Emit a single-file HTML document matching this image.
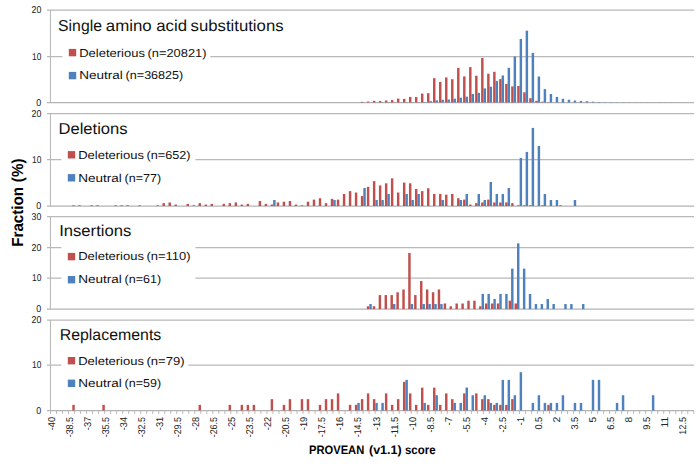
<!DOCTYPE html><html><head><meta charset="utf-8"><style>html,body{margin:0;padding:0;background:#fff;width:700px;height:466px;overflow:hidden}svg{display:block}text{font-family:"Liberation Sans",sans-serif;text-rendering:geometricPrecision}.t{fill:#111}</style></head><body>
<svg width="700" height="466" viewBox="0 0 700 466">
<rect width="700" height="466" fill="#fff"/>
<line x1="47" y1="102.5" x2="694" y2="102.5" stroke="#B3B3B3" stroke-width="1.25"/>
<text x="36.35" y="105.67" font-size="9.9" fill="#222" textLength="5" lengthAdjust="spacingAndGlyphs">0</text>
<line x1="47" y1="56.7" x2="694" y2="56.7" stroke="#B9B9B9" stroke-width="1.25"/>
<text x="31.96" y="59.87" font-size="9.9" fill="#222" textLength="9.37" lengthAdjust="spacingAndGlyphs">10</text>
<line x1="47" y1="10" x2="694" y2="10" stroke="#B9B9B9" stroke-width="1.25"/>
<text x="31.51" y="13.16" font-size="9.9" fill="#222" textLength="9.84" lengthAdjust="spacingAndGlyphs">20</text>
<line x1="50.4" y1="10" x2="50.4" y2="102.5" stroke="#B3B3B3" stroke-width="1"/>
<rect x="360.87" y="101.8" width="2.45" height="0.7" fill="#C0504D"/>
<rect x="366.89" y="101.5" width="2.45" height="1" fill="#C0504D"/>
<rect x="372.9" y="100.8" width="2.45" height="1.7" fill="#C0504D"/>
<rect x="378.91" y="101" width="2.45" height="1.5" fill="#C0504D"/>
<rect x="384.92" y="100.5" width="2.45" height="2" fill="#C0504D"/>
<rect x="390.93" y="100.1" width="2.45" height="2.4" fill="#C0504D"/>
<rect x="396.95" y="98.6" width="2.45" height="3.9" fill="#C0504D"/>
<rect x="402.96" y="98.9" width="2.45" height="3.6" fill="#C0504D"/>
<rect x="408.97" y="96.9" width="2.45" height="5.6" fill="#C0504D"/>
<rect x="414.98" y="97" width="2.45" height="5.5" fill="#C0504D"/>
<rect x="420.99" y="93.6" width="2.45" height="8.9" fill="#C0504D"/>
<rect x="427.01" y="93.2" width="2.45" height="9.3" fill="#C0504D"/>
<rect x="433.02" y="78.2" width="2.45" height="24.3" fill="#C0504D"/>
<rect x="439.03" y="81.9" width="2.45" height="20.6" fill="#C0504D"/>
<rect x="445.04" y="77.4" width="2.45" height="25.1" fill="#C0504D"/>
<rect x="451.05" y="79.2" width="2.45" height="23.3" fill="#C0504D"/>
<rect x="457.07" y="67.9" width="2.45" height="34.6" fill="#C0504D"/>
<rect x="463.08" y="76.4" width="2.45" height="26.1" fill="#C0504D"/>
<rect x="469.09" y="67.1" width="2.45" height="35.4" fill="#C0504D"/>
<rect x="475.1" y="75.7" width="2.45" height="26.8" fill="#C0504D"/>
<rect x="481.11" y="57.9" width="2.45" height="44.6" fill="#C0504D"/>
<rect x="487.13" y="73.7" width="2.45" height="28.8" fill="#C0504D"/>
<rect x="493.14" y="71.8" width="2.45" height="30.7" fill="#C0504D"/>
<rect x="499.15" y="79.1" width="2.45" height="23.4" fill="#C0504D"/>
<rect x="505.16" y="84" width="2.45" height="18.5" fill="#C0504D"/>
<rect x="511.17" y="86.4" width="2.45" height="16.1" fill="#C0504D"/>
<rect x="517.19" y="86" width="2.45" height="16.5" fill="#C0504D"/>
<rect x="523.2" y="92.3" width="2.45" height="10.2" fill="#C0504D"/>
<rect x="529.21" y="98.2" width="2.45" height="4.3" fill="#C0504D"/>
<rect x="535.22" y="100.8" width="2.45" height="1.7" fill="#C0504D"/>
<rect x="541.23" y="101.7" width="2.45" height="0.8" fill="#C0504D"/>
<rect x="547.25" y="102.1" width="2.45" height="0.4" fill="#C0504D"/>
<rect x="381.36" y="102.3" width="2.45" height="0.2" fill="#4F81BD"/>
<rect x="387.37" y="102.3" width="2.45" height="0.2" fill="#4F81BD"/>
<rect x="393.38" y="102.3" width="2.45" height="0.2" fill="#4F81BD"/>
<rect x="399.4" y="102.3" width="2.45" height="0.2" fill="#4F81BD"/>
<rect x="405.41" y="102.2" width="2.45" height="0.3" fill="#4F81BD"/>
<rect x="411.42" y="102.2" width="2.45" height="0.3" fill="#4F81BD"/>
<rect x="417.43" y="102.2" width="2.45" height="0.3" fill="#4F81BD"/>
<rect x="423.44" y="102" width="2.45" height="0.5" fill="#4F81BD"/>
<rect x="429.46" y="101.1" width="2.45" height="1.4" fill="#4F81BD"/>
<rect x="435.47" y="100.4" width="2.45" height="2.1" fill="#4F81BD"/>
<rect x="441.48" y="99.8" width="2.45" height="2.7" fill="#4F81BD"/>
<rect x="447.49" y="99.5" width="2.45" height="3" fill="#4F81BD"/>
<rect x="453.5" y="98.7" width="2.45" height="3.8" fill="#4F81BD"/>
<rect x="459.52" y="97.7" width="2.45" height="4.8" fill="#4F81BD"/>
<rect x="465.53" y="96.7" width="2.45" height="5.8" fill="#4F81BD"/>
<rect x="471.54" y="94" width="2.45" height="8.5" fill="#4F81BD"/>
<rect x="477.55" y="92.9" width="2.45" height="9.6" fill="#4F81BD"/>
<rect x="483.56" y="88.4" width="2.45" height="14.1" fill="#4F81BD"/>
<rect x="489.58" y="86.7" width="2.45" height="15.8" fill="#4F81BD"/>
<rect x="495.59" y="80.9" width="2.45" height="21.6" fill="#4F81BD"/>
<rect x="501.6" y="75.5" width="2.45" height="27" fill="#4F81BD"/>
<rect x="507.61" y="67.8" width="2.45" height="34.7" fill="#4F81BD"/>
<rect x="513.62" y="56.5" width="2.45" height="46" fill="#4F81BD"/>
<rect x="519.64" y="39" width="2.45" height="63.5" fill="#4F81BD"/>
<rect x="525.65" y="30.7" width="2.45" height="71.8" fill="#4F81BD"/>
<rect x="531.66" y="52.9" width="2.45" height="49.6" fill="#4F81BD"/>
<rect x="537.67" y="76.5" width="2.45" height="26" fill="#4F81BD"/>
<rect x="543.68" y="89.1" width="2.45" height="13.4" fill="#4F81BD"/>
<rect x="549.7" y="94" width="2.45" height="8.5" fill="#4F81BD"/>
<rect x="555.71" y="96.9" width="2.45" height="5.6" fill="#4F81BD"/>
<rect x="561.72" y="98.8" width="2.45" height="3.7" fill="#4F81BD"/>
<rect x="567.73" y="99.7" width="2.45" height="2.8" fill="#4F81BD"/>
<rect x="573.74" y="100.5" width="2.45" height="2" fill="#4F81BD"/>
<rect x="579.76" y="100.9" width="2.45" height="1.6" fill="#4F81BD"/>
<rect x="585.77" y="101.2" width="2.45" height="1.3" fill="#4F81BD"/>
<rect x="591.78" y="101.7" width="2.45" height="0.8" fill="#4F81BD"/>
<rect x="597.79" y="102" width="2.45" height="0.5" fill="#4F81BD"/>
<rect x="603.8" y="102.2" width="2.45" height="0.3" fill="#4F81BD"/>
<rect x="609.82" y="102.25" width="2.45" height="0.25" fill="#4F81BD"/>
<rect x="615.83" y="102.3" width="2.45" height="0.2" fill="#4F81BD"/>
<rect x="621.84" y="102.3" width="2.45" height="0.2" fill="#4F81BD"/>
<rect x="627.85" y="102.35" width="2.45" height="0.15" fill="#4F81BD"/>
<rect x="633.86" y="102.35" width="2.45" height="0.15" fill="#4F81BD"/>
<rect x="639.88" y="102.38" width="2.45" height="0.12" fill="#4F81BD"/>
<rect x="645.89" y="102.38" width="2.45" height="0.12" fill="#4F81BD"/>
<rect x="651.9" y="102.4" width="2.45" height="0.1" fill="#4F81BD"/>
<rect x="657.91" y="102.4" width="2.45" height="0.1" fill="#4F81BD"/>
<rect x="663.92" y="102.4" width="2.45" height="0.1" fill="#4F81BD"/>
<rect x="669.94" y="102.4" width="2.45" height="0.1" fill="#4F81BD"/>
<rect x="675.95" y="102.4" width="2.45" height="0.1" fill="#4F81BD"/>
<rect x="62.3" y="44" width="148" height="42" fill="#fff"/>
<rect x="68.8" y="48.9" width="7.4" height="7.4" fill="#C0504D"/>
<rect x="68.8" y="71.9" width="7.4" height="7.4" fill="#4F81BD"/>
<text x="79.23" y="56.5" font-size="11.5" class="t" textLength="65.74" lengthAdjust="spacingAndGlyphs">Deleterious</text>
<text x="147.5" y="56.5" font-size="11.5" class="t" textLength="59" lengthAdjust="spacingAndGlyphs">(n=20821)</text>
<text x="79.19" y="79.4" font-size="11.5" class="t" textLength="43.61" lengthAdjust="spacingAndGlyphs">Neutral</text>
<text x="125.62" y="79.4" font-size="11.5" class="t" textLength="57.66" lengthAdjust="spacingAndGlyphs">(n=36825)</text>
<text x="58.08" y="31.1" font-size="15.8" class="t" textLength="43.92" lengthAdjust="spacingAndGlyphs">Single</text>
<text x="105.78" y="31.1" font-size="15.8" class="t" textLength="45.92" lengthAdjust="spacingAndGlyphs">amino</text>
<text x="156.29" y="31.1" font-size="15.8" class="t" textLength="30.8" lengthAdjust="spacingAndGlyphs">acid</text>
<text x="190.53" y="31.1" font-size="15.8" class="t" textLength="93.07" lengthAdjust="spacingAndGlyphs">substitutions</text>
<line x1="47" y1="206" x2="694" y2="206" stroke="#B3B3B3" stroke-width="1.25"/>
<text x="36.35" y="209.16" font-size="9.9" fill="#222" textLength="5" lengthAdjust="spacingAndGlyphs">0</text>
<line x1="47" y1="159.6" x2="694" y2="159.6" stroke="#B9B9B9" stroke-width="1.25"/>
<text x="31.96" y="162.76" font-size="9.9" fill="#222" textLength="9.37" lengthAdjust="spacingAndGlyphs">10</text>
<line x1="47" y1="113.5" x2="694" y2="113.5" stroke="#B9B9B9" stroke-width="1.25"/>
<text x="31.51" y="116.67" font-size="9.9" fill="#222" textLength="9.84" lengthAdjust="spacingAndGlyphs">20</text>
<line x1="50.4" y1="113.5" x2="50.4" y2="206" stroke="#B3B3B3" stroke-width="1"/>
<rect x="72.3" y="205.29" width="2.45" height="0.71" fill="#C0504D"/>
<rect x="78.31" y="205.29" width="2.45" height="0.71" fill="#C0504D"/>
<rect x="90.33" y="205.29" width="2.45" height="0.71" fill="#C0504D"/>
<rect x="96.35" y="205.29" width="2.45" height="0.71" fill="#C0504D"/>
<rect x="114.38" y="205.29" width="2.45" height="0.71" fill="#C0504D"/>
<rect x="120.39" y="205.29" width="2.45" height="0.71" fill="#C0504D"/>
<rect x="126.41" y="205.29" width="2.45" height="0.71" fill="#C0504D"/>
<rect x="138.43" y="205.29" width="2.45" height="0.71" fill="#C0504D"/>
<rect x="156.47" y="205.29" width="2.45" height="0.71" fill="#C0504D"/>
<rect x="162.48" y="203.16" width="2.45" height="2.84" fill="#C0504D"/>
<rect x="168.49" y="202.45" width="2.45" height="3.55" fill="#C0504D"/>
<rect x="174.5" y="204.58" width="2.45" height="1.42" fill="#C0504D"/>
<rect x="186.53" y="203.87" width="2.45" height="2.13" fill="#C0504D"/>
<rect x="192.54" y="205.29" width="2.45" height="0.71" fill="#C0504D"/>
<rect x="198.55" y="203.16" width="2.45" height="2.84" fill="#C0504D"/>
<rect x="204.56" y="204.58" width="2.45" height="1.42" fill="#C0504D"/>
<rect x="210.57" y="203.87" width="2.45" height="2.13" fill="#C0504D"/>
<rect x="222.6" y="203.87" width="2.45" height="2.13" fill="#C0504D"/>
<rect x="228.61" y="203.16" width="2.45" height="2.84" fill="#C0504D"/>
<rect x="234.62" y="202.45" width="2.45" height="3.55" fill="#C0504D"/>
<rect x="240.63" y="204.58" width="2.45" height="1.42" fill="#C0504D"/>
<rect x="246.65" y="203.87" width="2.45" height="2.13" fill="#C0504D"/>
<rect x="258.67" y="201.03" width="2.45" height="4.97" fill="#C0504D"/>
<rect x="264.68" y="203.87" width="2.45" height="2.13" fill="#C0504D"/>
<rect x="270.69" y="204.58" width="2.45" height="1.42" fill="#C0504D"/>
<rect x="276.71" y="202.45" width="2.45" height="3.55" fill="#C0504D"/>
<rect x="282.72" y="201.74" width="2.45" height="4.26" fill="#C0504D"/>
<rect x="288.73" y="201.03" width="2.45" height="4.97" fill="#C0504D"/>
<rect x="294.74" y="204.58" width="2.45" height="1.42" fill="#C0504D"/>
<rect x="300.75" y="205.29" width="2.45" height="0.71" fill="#C0504D"/>
<rect x="306.77" y="201.74" width="2.45" height="4.26" fill="#C0504D"/>
<rect x="312.78" y="199.62" width="2.45" height="6.38" fill="#C0504D"/>
<rect x="318.79" y="198.2" width="2.45" height="7.8" fill="#C0504D"/>
<rect x="324.8" y="203.16" width="2.45" height="2.84" fill="#C0504D"/>
<rect x="330.81" y="198.91" width="2.45" height="7.09" fill="#C0504D"/>
<rect x="336.83" y="199.62" width="2.45" height="6.38" fill="#C0504D"/>
<rect x="342.84" y="193.94" width="2.45" height="12.06" fill="#C0504D"/>
<rect x="348.85" y="191.1" width="2.45" height="14.9" fill="#C0504D"/>
<rect x="354.86" y="192.52" width="2.45" height="13.48" fill="#C0504D"/>
<rect x="360.87" y="196.07" width="2.45" height="9.93" fill="#C0504D"/>
<rect x="366.89" y="186.85" width="2.45" height="19.15" fill="#C0504D"/>
<rect x="372.9" y="181.17" width="2.45" height="24.83" fill="#C0504D"/>
<rect x="378.91" y="185.43" width="2.45" height="20.57" fill="#C0504D"/>
<rect x="384.92" y="183.3" width="2.45" height="22.7" fill="#C0504D"/>
<rect x="390.93" y="178.34" width="2.45" height="27.66" fill="#C0504D"/>
<rect x="396.95" y="192.52" width="2.45" height="13.48" fill="#C0504D"/>
<rect x="402.96" y="182.59" width="2.45" height="23.41" fill="#C0504D"/>
<rect x="408.97" y="183.3" width="2.45" height="22.7" fill="#C0504D"/>
<rect x="414.98" y="188.98" width="2.45" height="17.02" fill="#C0504D"/>
<rect x="420.99" y="191.1" width="2.45" height="14.9" fill="#C0504D"/>
<rect x="427.01" y="188.27" width="2.45" height="17.73" fill="#C0504D"/>
<rect x="433.02" y="193.94" width="2.45" height="12.06" fill="#C0504D"/>
<rect x="439.03" y="193.94" width="2.45" height="12.06" fill="#C0504D"/>
<rect x="445.04" y="194.65" width="2.45" height="11.35" fill="#C0504D"/>
<rect x="451.05" y="193.94" width="2.45" height="12.06" fill="#C0504D"/>
<rect x="457.07" y="198.2" width="2.45" height="7.8" fill="#C0504D"/>
<rect x="463.08" y="199.62" width="2.45" height="6.38" fill="#C0504D"/>
<rect x="469.09" y="204.58" width="2.45" height="1.42" fill="#C0504D"/>
<rect x="475.1" y="203.16" width="2.45" height="2.84" fill="#C0504D"/>
<rect x="481.11" y="202.45" width="2.45" height="3.55" fill="#C0504D"/>
<rect x="487.13" y="199.62" width="2.45" height="6.38" fill="#C0504D"/>
<rect x="493.14" y="202.45" width="2.45" height="3.55" fill="#C0504D"/>
<rect x="499.15" y="202.45" width="2.45" height="3.55" fill="#C0504D"/>
<rect x="505.16" y="202.45" width="2.45" height="3.55" fill="#C0504D"/>
<rect x="511.17" y="203.16" width="2.45" height="2.84" fill="#C0504D"/>
<rect x="517.19" y="205.29" width="2.45" height="0.71" fill="#C0504D"/>
<rect x="523.2" y="205.29" width="2.45" height="0.71" fill="#C0504D"/>
<rect x="529.21" y="205.29" width="2.45" height="0.71" fill="#C0504D"/>
<rect x="541.23" y="205.29" width="2.45" height="0.71" fill="#C0504D"/>
<rect x="559.27" y="205.29" width="2.45" height="0.71" fill="#C0504D"/>
<rect x="273.14" y="199.99" width="2.45" height="6.01" fill="#4F81BD"/>
<rect x="333.26" y="199.99" width="2.45" height="6.01" fill="#4F81BD"/>
<rect x="363.32" y="187.98" width="2.45" height="18.02" fill="#4F81BD"/>
<rect x="375.35" y="199.99" width="2.45" height="6.01" fill="#4F81BD"/>
<rect x="381.36" y="199.99" width="2.45" height="6.01" fill="#4F81BD"/>
<rect x="387.37" y="193.99" width="2.45" height="12.01" fill="#4F81BD"/>
<rect x="405.41" y="193.99" width="2.45" height="12.01" fill="#4F81BD"/>
<rect x="411.42" y="199.99" width="2.45" height="6.01" fill="#4F81BD"/>
<rect x="417.43" y="193.99" width="2.45" height="12.01" fill="#4F81BD"/>
<rect x="441.48" y="199.99" width="2.45" height="6.01" fill="#4F81BD"/>
<rect x="459.52" y="199.99" width="2.45" height="6.01" fill="#4F81BD"/>
<rect x="465.53" y="193.99" width="2.45" height="12.01" fill="#4F81BD"/>
<rect x="477.55" y="193.99" width="2.45" height="12.01" fill="#4F81BD"/>
<rect x="483.56" y="199.99" width="2.45" height="6.01" fill="#4F81BD"/>
<rect x="489.58" y="181.97" width="2.45" height="24.03" fill="#4F81BD"/>
<rect x="495.59" y="193.99" width="2.45" height="12.01" fill="#4F81BD"/>
<rect x="501.6" y="193.99" width="2.45" height="12.01" fill="#4F81BD"/>
<rect x="507.61" y="187.98" width="2.45" height="18.02" fill="#4F81BD"/>
<rect x="519.64" y="157.95" width="2.45" height="48.05" fill="#4F81BD"/>
<rect x="525.65" y="151.94" width="2.45" height="54.06" fill="#4F81BD"/>
<rect x="531.66" y="127.92" width="2.45" height="78.08" fill="#4F81BD"/>
<rect x="537.67" y="145.94" width="2.45" height="60.06" fill="#4F81BD"/>
<rect x="543.68" y="193.99" width="2.45" height="12.01" fill="#4F81BD"/>
<rect x="549.7" y="199.99" width="2.45" height="6.01" fill="#4F81BD"/>
<rect x="555.71" y="199.99" width="2.45" height="6.01" fill="#4F81BD"/>
<rect x="573.74" y="199.99" width="2.45" height="6.01" fill="#4F81BD"/>
<rect x="61.4" y="147" width="134" height="42" fill="#fff"/>
<rect x="67.8" y="151.1" width="7.4" height="7.4" fill="#C0504D"/>
<rect x="67.8" y="174.1" width="7.4" height="7.4" fill="#4F81BD"/>
<text x="78.23" y="159.3" font-size="11.5" class="t" textLength="65.74" lengthAdjust="spacingAndGlyphs">Deleterious</text>
<text x="146.51" y="159.3" font-size="11.5" class="t" textLength="44.07" lengthAdjust="spacingAndGlyphs">(n=652)</text>
<text x="78.19" y="182.1" font-size="11.5" class="t" textLength="43.61" lengthAdjust="spacingAndGlyphs">Neutral</text>
<text x="124.62" y="182.1" font-size="11.5" class="t" textLength="36.55" lengthAdjust="spacingAndGlyphs">(n=77)</text>
<text x="58.44" y="134.4" font-size="15.8" class="t" textLength="69.16" lengthAdjust="spacingAndGlyphs">Deletions</text>
<line x1="47" y1="309.1" x2="694" y2="309.1" stroke="#B3B3B3" stroke-width="1.25"/>
<text x="36.35" y="312.26" font-size="9.9" fill="#222" textLength="5" lengthAdjust="spacingAndGlyphs">0</text>
<line x1="47" y1="278.1" x2="694" y2="278.1" stroke="#B9B9B9" stroke-width="1.25"/>
<text x="31.96" y="281.26" font-size="9.9" fill="#222" textLength="9.37" lengthAdjust="spacingAndGlyphs">10</text>
<line x1="47" y1="247.5" x2="694" y2="247.5" stroke="#B9B9B9" stroke-width="1.25"/>
<text x="31.51" y="250.66" font-size="9.9" fill="#222" textLength="9.84" lengthAdjust="spacingAndGlyphs">20</text>
<line x1="47" y1="216.5" x2="694" y2="216.5" stroke="#B9B9B9" stroke-width="1.25"/>
<text x="31.62" y="219.66" font-size="9.9" fill="#222" textLength="9.72" lengthAdjust="spacingAndGlyphs">30</text>
<line x1="50.4" y1="216.5" x2="50.4" y2="309.1" stroke="#B3B3B3" stroke-width="1"/>
<rect x="366.85" y="306.29" width="2.45" height="2.81" fill="#C0504D"/>
<rect x="372.76" y="306.29" width="2.45" height="2.81" fill="#C0504D"/>
<rect x="378.67" y="295.07" width="2.45" height="14.03" fill="#C0504D"/>
<rect x="384.58" y="295.07" width="2.45" height="14.03" fill="#C0504D"/>
<rect x="390.48" y="295.07" width="2.45" height="14.03" fill="#C0504D"/>
<rect x="396.39" y="292.26" width="2.45" height="16.84" fill="#C0504D"/>
<rect x="402.3" y="289.46" width="2.45" height="19.64" fill="#C0504D"/>
<rect x="408.21" y="252.98" width="2.45" height="56.12" fill="#C0504D"/>
<rect x="414.12" y="295.07" width="2.45" height="14.03" fill="#C0504D"/>
<rect x="420.02" y="281.04" width="2.45" height="28.06" fill="#C0504D"/>
<rect x="425.93" y="289.46" width="2.45" height="19.64" fill="#C0504D"/>
<rect x="431.84" y="292.26" width="2.45" height="16.84" fill="#C0504D"/>
<rect x="437.75" y="289.46" width="2.45" height="19.64" fill="#C0504D"/>
<rect x="443.66" y="303.49" width="2.45" height="5.61" fill="#C0504D"/>
<rect x="449.56" y="306.29" width="2.45" height="2.81" fill="#C0504D"/>
<rect x="455.47" y="303.49" width="2.45" height="5.61" fill="#C0504D"/>
<rect x="461.38" y="303.49" width="2.45" height="5.61" fill="#C0504D"/>
<rect x="467.29" y="300.68" width="2.45" height="8.42" fill="#C0504D"/>
<rect x="473.2" y="300.68" width="2.45" height="8.42" fill="#C0504D"/>
<rect x="479.1" y="306.29" width="2.45" height="2.81" fill="#C0504D"/>
<rect x="485.01" y="303.49" width="2.45" height="5.61" fill="#C0504D"/>
<rect x="490.92" y="303.49" width="2.45" height="5.61" fill="#C0504D"/>
<rect x="496.83" y="303.49" width="2.45" height="5.61" fill="#C0504D"/>
<rect x="508.64" y="300.68" width="2.45" height="8.42" fill="#C0504D"/>
<rect x="514.55" y="303.49" width="2.45" height="5.61" fill="#C0504D"/>
<rect x="369.3" y="304.04" width="2.45" height="5.06" fill="#4F81BD"/>
<rect x="392.93" y="304.04" width="2.45" height="5.06" fill="#4F81BD"/>
<rect x="410.66" y="304.04" width="2.45" height="5.06" fill="#4F81BD"/>
<rect x="422.47" y="304.04" width="2.45" height="5.06" fill="#4F81BD"/>
<rect x="428.38" y="304.04" width="2.45" height="5.06" fill="#4F81BD"/>
<rect x="434.29" y="304.04" width="2.45" height="5.06" fill="#4F81BD"/>
<rect x="440.2" y="304.04" width="2.45" height="5.06" fill="#4F81BD"/>
<rect x="481.55" y="293.92" width="2.45" height="15.18" fill="#4F81BD"/>
<rect x="487.46" y="293.92" width="2.45" height="15.18" fill="#4F81BD"/>
<rect x="493.37" y="298.98" width="2.45" height="10.12" fill="#4F81BD"/>
<rect x="499.28" y="293.92" width="2.45" height="15.18" fill="#4F81BD"/>
<rect x="505.19" y="293.92" width="2.45" height="15.18" fill="#4F81BD"/>
<rect x="511.09" y="268.62" width="2.45" height="40.48" fill="#4F81BD"/>
<rect x="517" y="243.32" width="2.45" height="65.78" fill="#4F81BD"/>
<rect x="522.91" y="268.62" width="2.45" height="40.48" fill="#4F81BD"/>
<rect x="528.82" y="293.92" width="2.45" height="15.18" fill="#4F81BD"/>
<rect x="534.73" y="304.04" width="2.45" height="5.06" fill="#4F81BD"/>
<rect x="540.63" y="304.04" width="2.45" height="5.06" fill="#4F81BD"/>
<rect x="546.54" y="298.98" width="2.45" height="10.12" fill="#4F81BD"/>
<rect x="552.45" y="304.04" width="2.45" height="5.06" fill="#4F81BD"/>
<rect x="564.27" y="304.04" width="2.45" height="5.06" fill="#4F81BD"/>
<rect x="570.17" y="304.04" width="2.45" height="5.06" fill="#4F81BD"/>
<rect x="581.99" y="304.04" width="2.45" height="5.06" fill="#4F81BD"/>
<rect x="61.4" y="244" width="134" height="46" fill="#fff"/>
<rect x="67.8" y="252.9" width="7.4" height="7.4" fill="#C0504D"/>
<rect x="67.8" y="276" width="7.4" height="7.4" fill="#4F81BD"/>
<text x="78.23" y="260.4" font-size="11.5" class="t" textLength="65.74" lengthAdjust="spacingAndGlyphs">Deleterious</text>
<text x="146.51" y="260.4" font-size="11.5" class="t" textLength="44.07" lengthAdjust="spacingAndGlyphs">(n=110)</text>
<text x="78.19" y="283.4" font-size="11.5" class="t" textLength="43.61" lengthAdjust="spacingAndGlyphs">Neutral</text>
<text x="124.62" y="283.4" font-size="11.5" class="t" textLength="36.55" lengthAdjust="spacingAndGlyphs">(n=61)</text>
<text x="59.16" y="235.7" font-size="15.8" class="t" textLength="72.14" lengthAdjust="spacingAndGlyphs">Insertions</text>
<line x1="47" y1="410.6" x2="694" y2="410.6" stroke="#B3B3B3" stroke-width="1.25"/>
<text x="36.35" y="413.76" font-size="9.9" fill="#222" textLength="5" lengthAdjust="spacingAndGlyphs">0</text>
<line x1="47" y1="365.1" x2="694" y2="365.1" stroke="#B9B9B9" stroke-width="1.25"/>
<text x="31.96" y="368.26" font-size="9.9" fill="#222" textLength="9.37" lengthAdjust="spacingAndGlyphs">10</text>
<line x1="47" y1="320" x2="694" y2="320" stroke="#B9B9B9" stroke-width="1.25"/>
<text x="31.51" y="323.16" font-size="9.9" fill="#222" textLength="9.84" lengthAdjust="spacingAndGlyphs">20</text>
<line x1="50.4" y1="320" x2="50.4" y2="410.6" stroke="#B3B3B3" stroke-width="1"/>
<rect x="72.3" y="404.87" width="2.45" height="5.73" fill="#C0504D"/>
<rect x="102.36" y="404.87" width="2.45" height="5.73" fill="#C0504D"/>
<rect x="198.55" y="404.87" width="2.45" height="5.73" fill="#C0504D"/>
<rect x="228.61" y="404.87" width="2.45" height="5.73" fill="#C0504D"/>
<rect x="240.63" y="404.87" width="2.45" height="5.73" fill="#C0504D"/>
<rect x="246.65" y="404.87" width="2.45" height="5.73" fill="#C0504D"/>
<rect x="252.66" y="404.87" width="2.45" height="5.73" fill="#C0504D"/>
<rect x="270.69" y="399.13" width="2.45" height="11.47" fill="#C0504D"/>
<rect x="282.72" y="404.87" width="2.45" height="5.73" fill="#C0504D"/>
<rect x="288.73" y="399.13" width="2.45" height="11.47" fill="#C0504D"/>
<rect x="300.75" y="399.13" width="2.45" height="11.47" fill="#C0504D"/>
<rect x="306.77" y="399.13" width="2.45" height="11.47" fill="#C0504D"/>
<rect x="318.79" y="404.87" width="2.45" height="5.73" fill="#C0504D"/>
<rect x="324.8" y="399.13" width="2.45" height="11.47" fill="#C0504D"/>
<rect x="330.81" y="399.13" width="2.45" height="11.47" fill="#C0504D"/>
<rect x="336.83" y="393.4" width="2.45" height="17.2" fill="#C0504D"/>
<rect x="348.85" y="404.87" width="2.45" height="5.73" fill="#C0504D"/>
<rect x="354.86" y="404.87" width="2.45" height="5.73" fill="#C0504D"/>
<rect x="360.87" y="399.13" width="2.45" height="11.47" fill="#C0504D"/>
<rect x="366.89" y="393.4" width="2.45" height="17.2" fill="#C0504D"/>
<rect x="372.9" y="399.13" width="2.45" height="11.47" fill="#C0504D"/>
<rect x="384.92" y="393.4" width="2.45" height="17.2" fill="#C0504D"/>
<rect x="390.93" y="404.87" width="2.45" height="5.73" fill="#C0504D"/>
<rect x="396.95" y="399.13" width="2.45" height="11.47" fill="#C0504D"/>
<rect x="402.96" y="381.93" width="2.45" height="28.67" fill="#C0504D"/>
<rect x="408.97" y="393.4" width="2.45" height="17.2" fill="#C0504D"/>
<rect x="414.98" y="404.87" width="2.45" height="5.73" fill="#C0504D"/>
<rect x="420.99" y="387.66" width="2.45" height="22.94" fill="#C0504D"/>
<rect x="427.01" y="404.87" width="2.45" height="5.73" fill="#C0504D"/>
<rect x="433.02" y="387.66" width="2.45" height="22.94" fill="#C0504D"/>
<rect x="439.03" y="404.87" width="2.45" height="5.73" fill="#C0504D"/>
<rect x="445.04" y="393.4" width="2.45" height="17.2" fill="#C0504D"/>
<rect x="451.05" y="399.13" width="2.45" height="11.47" fill="#C0504D"/>
<rect x="463.08" y="393.4" width="2.45" height="17.2" fill="#C0504D"/>
<rect x="475.1" y="393.4" width="2.45" height="17.2" fill="#C0504D"/>
<rect x="481.11" y="399.13" width="2.45" height="11.47" fill="#C0504D"/>
<rect x="487.13" y="399.13" width="2.45" height="11.47" fill="#C0504D"/>
<rect x="493.14" y="404.87" width="2.45" height="5.73" fill="#C0504D"/>
<rect x="499.15" y="404.87" width="2.45" height="5.73" fill="#C0504D"/>
<rect x="505.16" y="404.87" width="2.45" height="5.73" fill="#C0504D"/>
<rect x="511.17" y="399.13" width="2.45" height="11.47" fill="#C0504D"/>
<rect x="547.25" y="404.87" width="2.45" height="5.73" fill="#C0504D"/>
<rect x="357.31" y="402.92" width="2.45" height="7.68" fill="#4F81BD"/>
<rect x="375.35" y="402.92" width="2.45" height="7.68" fill="#4F81BD"/>
<rect x="381.36" y="402.92" width="2.45" height="7.68" fill="#4F81BD"/>
<rect x="405.41" y="379.89" width="2.45" height="30.71" fill="#4F81BD"/>
<rect x="423.44" y="402.92" width="2.45" height="7.68" fill="#4F81BD"/>
<rect x="435.47" y="395.24" width="2.45" height="15.36" fill="#4F81BD"/>
<rect x="453.5" y="402.92" width="2.45" height="7.68" fill="#4F81BD"/>
<rect x="459.52" y="402.92" width="2.45" height="7.68" fill="#4F81BD"/>
<rect x="465.53" y="387.57" width="2.45" height="23.03" fill="#4F81BD"/>
<rect x="471.54" y="395.24" width="2.45" height="15.36" fill="#4F81BD"/>
<rect x="483.56" y="395.24" width="2.45" height="15.36" fill="#4F81BD"/>
<rect x="489.58" y="402.92" width="2.45" height="7.68" fill="#4F81BD"/>
<rect x="495.59" y="402.92" width="2.45" height="7.68" fill="#4F81BD"/>
<rect x="501.6" y="379.89" width="2.45" height="30.71" fill="#4F81BD"/>
<rect x="507.61" y="379.89" width="2.45" height="30.71" fill="#4F81BD"/>
<rect x="513.62" y="395.24" width="2.45" height="15.36" fill="#4F81BD"/>
<rect x="519.64" y="372.21" width="2.45" height="38.39" fill="#4F81BD"/>
<rect x="531.66" y="402.92" width="2.45" height="7.68" fill="#4F81BD"/>
<rect x="537.67" y="395.24" width="2.45" height="15.36" fill="#4F81BD"/>
<rect x="543.68" y="402.92" width="2.45" height="7.68" fill="#4F81BD"/>
<rect x="549.7" y="402.92" width="2.45" height="7.68" fill="#4F81BD"/>
<rect x="555.71" y="402.92" width="2.45" height="7.68" fill="#4F81BD"/>
<rect x="561.72" y="395.24" width="2.45" height="15.36" fill="#4F81BD"/>
<rect x="573.74" y="402.92" width="2.45" height="7.68" fill="#4F81BD"/>
<rect x="579.76" y="402.92" width="2.45" height="7.68" fill="#4F81BD"/>
<rect x="591.78" y="379.89" width="2.45" height="30.71" fill="#4F81BD"/>
<rect x="597.79" y="379.89" width="2.45" height="30.71" fill="#4F81BD"/>
<rect x="615.83" y="402.92" width="2.45" height="7.68" fill="#4F81BD"/>
<rect x="621.84" y="395.24" width="2.45" height="15.36" fill="#4F81BD"/>
<rect x="651.9" y="395.24" width="2.45" height="15.36" fill="#4F81BD"/>
<rect x="61.4" y="352" width="127" height="41" fill="#fff"/>
<rect x="67.8" y="357" width="7.4" height="7.4" fill="#C0504D"/>
<rect x="67.8" y="379.6" width="7.4" height="7.4" fill="#4F81BD"/>
<text x="78.23" y="364.6" font-size="11.5" class="t" textLength="65.74" lengthAdjust="spacingAndGlyphs">Deleterious</text>
<text x="146.49" y="364.6" font-size="11.5" class="t" textLength="38.12" lengthAdjust="spacingAndGlyphs">(n=79)</text>
<text x="78.19" y="387.4" font-size="11.5" class="t" textLength="43.61" lengthAdjust="spacingAndGlyphs">Neutral</text>
<text x="124.62" y="387.4" font-size="11.5" class="t" textLength="36.55" lengthAdjust="spacingAndGlyphs">(n=59)</text>
<text x="59.7" y="340" font-size="15.8" class="t" textLength="101.58" lengthAdjust="spacingAndGlyphs">Replacements</text>
<line x1="50.5" y1="410.6" x2="50.5" y2="413.9" stroke="#B8B8B8" stroke-width="1"/>
<line x1="56.51" y1="410.6" x2="56.51" y2="413.9" stroke="#B8B8B8" stroke-width="1"/>
<line x1="62.52" y1="410.6" x2="62.52" y2="413.9" stroke="#B8B8B8" stroke-width="1"/>
<line x1="68.54" y1="410.6" x2="68.54" y2="413.9" stroke="#B8B8B8" stroke-width="1"/>
<line x1="74.55" y1="410.6" x2="74.55" y2="413.9" stroke="#B8B8B8" stroke-width="1"/>
<line x1="80.56" y1="410.6" x2="80.56" y2="413.9" stroke="#B8B8B8" stroke-width="1"/>
<line x1="86.57" y1="410.6" x2="86.57" y2="413.9" stroke="#B8B8B8" stroke-width="1"/>
<line x1="92.58" y1="410.6" x2="92.58" y2="413.9" stroke="#B8B8B8" stroke-width="1"/>
<line x1="98.6" y1="410.6" x2="98.6" y2="413.9" stroke="#B8B8B8" stroke-width="1"/>
<line x1="104.61" y1="410.6" x2="104.61" y2="413.9" stroke="#B8B8B8" stroke-width="1"/>
<line x1="110.62" y1="410.6" x2="110.62" y2="413.9" stroke="#B8B8B8" stroke-width="1"/>
<line x1="116.63" y1="410.6" x2="116.63" y2="413.9" stroke="#B8B8B8" stroke-width="1"/>
<line x1="122.64" y1="410.6" x2="122.64" y2="413.9" stroke="#B8B8B8" stroke-width="1"/>
<line x1="128.66" y1="410.6" x2="128.66" y2="413.9" stroke="#B8B8B8" stroke-width="1"/>
<line x1="134.67" y1="410.6" x2="134.67" y2="413.9" stroke="#B8B8B8" stroke-width="1"/>
<line x1="140.68" y1="410.6" x2="140.68" y2="413.9" stroke="#B8B8B8" stroke-width="1"/>
<line x1="146.69" y1="410.6" x2="146.69" y2="413.9" stroke="#B8B8B8" stroke-width="1"/>
<line x1="152.7" y1="410.6" x2="152.7" y2="413.9" stroke="#B8B8B8" stroke-width="1"/>
<line x1="158.72" y1="410.6" x2="158.72" y2="413.9" stroke="#B8B8B8" stroke-width="1"/>
<line x1="164.73" y1="410.6" x2="164.73" y2="413.9" stroke="#B8B8B8" stroke-width="1"/>
<line x1="170.74" y1="410.6" x2="170.74" y2="413.9" stroke="#B8B8B8" stroke-width="1"/>
<line x1="176.75" y1="410.6" x2="176.75" y2="413.9" stroke="#B8B8B8" stroke-width="1"/>
<line x1="182.76" y1="410.6" x2="182.76" y2="413.9" stroke="#B8B8B8" stroke-width="1"/>
<line x1="188.78" y1="410.6" x2="188.78" y2="413.9" stroke="#B8B8B8" stroke-width="1"/>
<line x1="194.79" y1="410.6" x2="194.79" y2="413.9" stroke="#B8B8B8" stroke-width="1"/>
<line x1="200.8" y1="410.6" x2="200.8" y2="413.9" stroke="#B8B8B8" stroke-width="1"/>
<line x1="206.81" y1="410.6" x2="206.81" y2="413.9" stroke="#B8B8B8" stroke-width="1"/>
<line x1="212.82" y1="410.6" x2="212.82" y2="413.9" stroke="#B8B8B8" stroke-width="1"/>
<line x1="218.84" y1="410.6" x2="218.84" y2="413.9" stroke="#B8B8B8" stroke-width="1"/>
<line x1="224.85" y1="410.6" x2="224.85" y2="413.9" stroke="#B8B8B8" stroke-width="1"/>
<line x1="230.86" y1="410.6" x2="230.86" y2="413.9" stroke="#B8B8B8" stroke-width="1"/>
<line x1="236.87" y1="410.6" x2="236.87" y2="413.9" stroke="#B8B8B8" stroke-width="1"/>
<line x1="242.88" y1="410.6" x2="242.88" y2="413.9" stroke="#B8B8B8" stroke-width="1"/>
<line x1="248.9" y1="410.6" x2="248.9" y2="413.9" stroke="#B8B8B8" stroke-width="1"/>
<line x1="254.91" y1="410.6" x2="254.91" y2="413.9" stroke="#B8B8B8" stroke-width="1"/>
<line x1="260.92" y1="410.6" x2="260.92" y2="413.9" stroke="#B8B8B8" stroke-width="1"/>
<line x1="266.93" y1="410.6" x2="266.93" y2="413.9" stroke="#B8B8B8" stroke-width="1"/>
<line x1="272.94" y1="410.6" x2="272.94" y2="413.9" stroke="#B8B8B8" stroke-width="1"/>
<line x1="278.96" y1="410.6" x2="278.96" y2="413.9" stroke="#B8B8B8" stroke-width="1"/>
<line x1="284.97" y1="410.6" x2="284.97" y2="413.9" stroke="#B8B8B8" stroke-width="1"/>
<line x1="290.98" y1="410.6" x2="290.98" y2="413.9" stroke="#B8B8B8" stroke-width="1"/>
<line x1="296.99" y1="410.6" x2="296.99" y2="413.9" stroke="#B8B8B8" stroke-width="1"/>
<line x1="303" y1="410.6" x2="303" y2="413.9" stroke="#B8B8B8" stroke-width="1"/>
<line x1="309.02" y1="410.6" x2="309.02" y2="413.9" stroke="#B8B8B8" stroke-width="1"/>
<line x1="315.03" y1="410.6" x2="315.03" y2="413.9" stroke="#B8B8B8" stroke-width="1"/>
<line x1="321.04" y1="410.6" x2="321.04" y2="413.9" stroke="#B8B8B8" stroke-width="1"/>
<line x1="327.05" y1="410.6" x2="327.05" y2="413.9" stroke="#B8B8B8" stroke-width="1"/>
<line x1="333.06" y1="410.6" x2="333.06" y2="413.9" stroke="#B8B8B8" stroke-width="1"/>
<line x1="339.08" y1="410.6" x2="339.08" y2="413.9" stroke="#B8B8B8" stroke-width="1"/>
<line x1="345.09" y1="410.6" x2="345.09" y2="413.9" stroke="#B8B8B8" stroke-width="1"/>
<line x1="351.1" y1="410.6" x2="351.1" y2="413.9" stroke="#B8B8B8" stroke-width="1"/>
<line x1="357.11" y1="410.6" x2="357.11" y2="413.9" stroke="#B8B8B8" stroke-width="1"/>
<line x1="363.12" y1="410.6" x2="363.12" y2="413.9" stroke="#B8B8B8" stroke-width="1"/>
<line x1="369.14" y1="410.6" x2="369.14" y2="413.9" stroke="#B8B8B8" stroke-width="1"/>
<line x1="375.15" y1="410.6" x2="375.15" y2="413.9" stroke="#B8B8B8" stroke-width="1"/>
<line x1="381.16" y1="410.6" x2="381.16" y2="413.9" stroke="#B8B8B8" stroke-width="1"/>
<line x1="387.17" y1="410.6" x2="387.17" y2="413.9" stroke="#B8B8B8" stroke-width="1"/>
<line x1="393.18" y1="410.6" x2="393.18" y2="413.9" stroke="#B8B8B8" stroke-width="1"/>
<line x1="399.2" y1="410.6" x2="399.2" y2="413.9" stroke="#B8B8B8" stroke-width="1"/>
<line x1="405.21" y1="410.6" x2="405.21" y2="413.9" stroke="#B8B8B8" stroke-width="1"/>
<line x1="411.22" y1="410.6" x2="411.22" y2="413.9" stroke="#B8B8B8" stroke-width="1"/>
<line x1="417.23" y1="410.6" x2="417.23" y2="413.9" stroke="#B8B8B8" stroke-width="1"/>
<line x1="423.24" y1="410.6" x2="423.24" y2="413.9" stroke="#B8B8B8" stroke-width="1"/>
<line x1="429.26" y1="410.6" x2="429.26" y2="413.9" stroke="#B8B8B8" stroke-width="1"/>
<line x1="435.27" y1="410.6" x2="435.27" y2="413.9" stroke="#B8B8B8" stroke-width="1"/>
<line x1="441.28" y1="410.6" x2="441.28" y2="413.9" stroke="#B8B8B8" stroke-width="1"/>
<line x1="447.29" y1="410.6" x2="447.29" y2="413.9" stroke="#B8B8B8" stroke-width="1"/>
<line x1="453.3" y1="410.6" x2="453.3" y2="413.9" stroke="#B8B8B8" stroke-width="1"/>
<line x1="459.32" y1="410.6" x2="459.32" y2="413.9" stroke="#B8B8B8" stroke-width="1"/>
<line x1="465.33" y1="410.6" x2="465.33" y2="413.9" stroke="#B8B8B8" stroke-width="1"/>
<line x1="471.34" y1="410.6" x2="471.34" y2="413.9" stroke="#B8B8B8" stroke-width="1"/>
<line x1="477.35" y1="410.6" x2="477.35" y2="413.9" stroke="#B8B8B8" stroke-width="1"/>
<line x1="483.36" y1="410.6" x2="483.36" y2="413.9" stroke="#B8B8B8" stroke-width="1"/>
<line x1="489.38" y1="410.6" x2="489.38" y2="413.9" stroke="#B8B8B8" stroke-width="1"/>
<line x1="495.39" y1="410.6" x2="495.39" y2="413.9" stroke="#B8B8B8" stroke-width="1"/>
<line x1="501.4" y1="410.6" x2="501.4" y2="413.9" stroke="#B8B8B8" stroke-width="1"/>
<line x1="507.41" y1="410.6" x2="507.41" y2="413.9" stroke="#B8B8B8" stroke-width="1"/>
<line x1="513.42" y1="410.6" x2="513.42" y2="413.9" stroke="#B8B8B8" stroke-width="1"/>
<line x1="519.44" y1="410.6" x2="519.44" y2="413.9" stroke="#B8B8B8" stroke-width="1"/>
<line x1="525.45" y1="410.6" x2="525.45" y2="413.9" stroke="#B8B8B8" stroke-width="1"/>
<line x1="531.46" y1="410.6" x2="531.46" y2="413.9" stroke="#B8B8B8" stroke-width="1"/>
<line x1="537.47" y1="410.6" x2="537.47" y2="413.9" stroke="#B8B8B8" stroke-width="1"/>
<line x1="543.48" y1="410.6" x2="543.48" y2="413.9" stroke="#B8B8B8" stroke-width="1"/>
<line x1="549.5" y1="410.6" x2="549.5" y2="413.9" stroke="#B8B8B8" stroke-width="1"/>
<line x1="555.51" y1="410.6" x2="555.51" y2="413.9" stroke="#B8B8B8" stroke-width="1"/>
<line x1="561.52" y1="410.6" x2="561.52" y2="413.9" stroke="#B8B8B8" stroke-width="1"/>
<line x1="567.53" y1="410.6" x2="567.53" y2="413.9" stroke="#B8B8B8" stroke-width="1"/>
<line x1="573.54" y1="410.6" x2="573.54" y2="413.9" stroke="#B8B8B8" stroke-width="1"/>
<line x1="579.56" y1="410.6" x2="579.56" y2="413.9" stroke="#B8B8B8" stroke-width="1"/>
<line x1="585.57" y1="410.6" x2="585.57" y2="413.9" stroke="#B8B8B8" stroke-width="1"/>
<line x1="591.58" y1="410.6" x2="591.58" y2="413.9" stroke="#B8B8B8" stroke-width="1"/>
<line x1="597.59" y1="410.6" x2="597.59" y2="413.9" stroke="#B8B8B8" stroke-width="1"/>
<line x1="603.6" y1="410.6" x2="603.6" y2="413.9" stroke="#B8B8B8" stroke-width="1"/>
<line x1="609.62" y1="410.6" x2="609.62" y2="413.9" stroke="#B8B8B8" stroke-width="1"/>
<line x1="615.63" y1="410.6" x2="615.63" y2="413.9" stroke="#B8B8B8" stroke-width="1"/>
<line x1="621.64" y1="410.6" x2="621.64" y2="413.9" stroke="#B8B8B8" stroke-width="1"/>
<line x1="627.65" y1="410.6" x2="627.65" y2="413.9" stroke="#B8B8B8" stroke-width="1"/>
<line x1="633.66" y1="410.6" x2="633.66" y2="413.9" stroke="#B8B8B8" stroke-width="1"/>
<line x1="639.68" y1="410.6" x2="639.68" y2="413.9" stroke="#B8B8B8" stroke-width="1"/>
<line x1="645.69" y1="410.6" x2="645.69" y2="413.9" stroke="#B8B8B8" stroke-width="1"/>
<line x1="651.7" y1="410.6" x2="651.7" y2="413.9" stroke="#B8B8B8" stroke-width="1"/>
<line x1="657.71" y1="410.6" x2="657.71" y2="413.9" stroke="#B8B8B8" stroke-width="1"/>
<line x1="663.72" y1="410.6" x2="663.72" y2="413.9" stroke="#B8B8B8" stroke-width="1"/>
<line x1="669.74" y1="410.6" x2="669.74" y2="413.9" stroke="#B8B8B8" stroke-width="1"/>
<line x1="675.75" y1="410.6" x2="675.75" y2="413.9" stroke="#B8B8B8" stroke-width="1"/>
<line x1="681.76" y1="410.6" x2="681.76" y2="413.9" stroke="#B8B8B8" stroke-width="1"/>
<line x1="687.77" y1="410.6" x2="687.77" y2="413.9" stroke="#B8B8B8" stroke-width="1"/>
<line x1="693.78" y1="410.6" x2="693.78" y2="413.9" stroke="#B8B8B8" stroke-width="1"/>
<text transform="translate(54.86,430.18) rotate(-90)" font-size="9.9" fill="#222" textLength="13.24" lengthAdjust="spacingAndGlyphs">-40</text>
<text transform="translate(72.9,437.34) rotate(-90)" font-size="9.9" fill="#222" textLength="20.42" lengthAdjust="spacingAndGlyphs">-38.5</text>
<text transform="translate(90.94,430.18) rotate(-90)" font-size="9.9" fill="#222" textLength="13.35" lengthAdjust="spacingAndGlyphs">-37</text>
<text transform="translate(108.97,437.34) rotate(-90)" font-size="9.9" fill="#222" textLength="20.42" lengthAdjust="spacingAndGlyphs">-35.5</text>
<text transform="translate(127.01,430.18) rotate(-90)" font-size="9.9" fill="#222" textLength="13.14" lengthAdjust="spacingAndGlyphs">-34</text>
<text transform="translate(145.05,437.34) rotate(-90)" font-size="9.9" fill="#222" textLength="20.42" lengthAdjust="spacingAndGlyphs">-32.5</text>
<text transform="translate(163.08,430.18) rotate(-90)" font-size="9.9" fill="#222" textLength="13.33" lengthAdjust="spacingAndGlyphs">-31</text>
<text transform="translate(181.12,437.34) rotate(-90)" font-size="9.9" fill="#222" textLength="20.42" lengthAdjust="spacingAndGlyphs">-29.5</text>
<text transform="translate(199.15,430.18) rotate(-90)" font-size="9.9" fill="#222" textLength="13.28" lengthAdjust="spacingAndGlyphs">-28</text>
<text transform="translate(217.19,437.34) rotate(-90)" font-size="9.9" fill="#222" textLength="20.42" lengthAdjust="spacingAndGlyphs">-26.5</text>
<text transform="translate(235.22,430.18) rotate(-90)" font-size="9.9" fill="#222" textLength="13.27" lengthAdjust="spacingAndGlyphs">-25</text>
<text transform="translate(253.26,437.34) rotate(-90)" font-size="9.9" fill="#222" textLength="20.42" lengthAdjust="spacingAndGlyphs">-23.5</text>
<text transform="translate(271.3,430.18) rotate(-90)" font-size="9.9" fill="#222" textLength="13.35" lengthAdjust="spacingAndGlyphs">-22</text>
<text transform="translate(289.33,437.34) rotate(-90)" font-size="9.9" fill="#222" textLength="20.42" lengthAdjust="spacingAndGlyphs">-20.5</text>
<text transform="translate(307.37,430.18) rotate(-90)" font-size="9.9" fill="#222" textLength="13.32" lengthAdjust="spacingAndGlyphs">-19</text>
<text transform="translate(325.4,437.34) rotate(-90)" font-size="9.9" fill="#222" textLength="20.42" lengthAdjust="spacingAndGlyphs">-17.5</text>
<text transform="translate(343.44,430.18) rotate(-90)" font-size="9.9" fill="#222" textLength="13.29" lengthAdjust="spacingAndGlyphs">-16</text>
<text transform="translate(361.48,437.34) rotate(-90)" font-size="9.9" fill="#222" textLength="20.42" lengthAdjust="spacingAndGlyphs">-14.5</text>
<text transform="translate(379.51,430.18) rotate(-90)" font-size="9.9" fill="#222" textLength="13.29" lengthAdjust="spacingAndGlyphs">-13</text>
<text transform="translate(397.55,437.34) rotate(-90)" font-size="9.9" fill="#222" textLength="20.42" lengthAdjust="spacingAndGlyphs">-11.5</text>
<text transform="translate(415.58,430.18) rotate(-90)" font-size="9.9" fill="#222" textLength="13.24" lengthAdjust="spacingAndGlyphs">-10</text>
<text transform="translate(433.62,432.56) rotate(-90)" font-size="9.9" fill="#222" textLength="15.64" lengthAdjust="spacingAndGlyphs">-8.5</text>
<text transform="translate(451.66,425.41) rotate(-90)" font-size="9.9" fill="#222" textLength="8.6" lengthAdjust="spacingAndGlyphs">-7</text>
<text transform="translate(469.69,432.56) rotate(-90)" font-size="9.9" fill="#222" textLength="15.64" lengthAdjust="spacingAndGlyphs">-5.5</text>
<text transform="translate(487.73,425.4) rotate(-90)" font-size="9.9" fill="#222" textLength="8.38" lengthAdjust="spacingAndGlyphs">-4</text>
<text transform="translate(505.76,432.56) rotate(-90)" font-size="9.9" fill="#222" textLength="15.64" lengthAdjust="spacingAndGlyphs">-2.5</text>
<text transform="translate(523.8,425.41) rotate(-90)" font-size="9.9" fill="#222" textLength="8.58" lengthAdjust="spacingAndGlyphs">-1</text>
<text transform="translate(541.84,429.62) rotate(-90)" font-size="9.9" fill="#222" textLength="12.7" lengthAdjust="spacingAndGlyphs">0.5</text>
<text transform="translate(559.87,422.62) rotate(-90)" font-size="9.9" fill="#222" textLength="5.85" lengthAdjust="spacingAndGlyphs">2</text>
<text transform="translate(577.91,429.61) rotate(-90)" font-size="9.9" fill="#222" textLength="12.69" lengthAdjust="spacingAndGlyphs">3.5</text>
<text transform="translate(595.94,422.5) rotate(-90)" font-size="9.9" fill="#222" textLength="5.62" lengthAdjust="spacingAndGlyphs">5</text>
<text transform="translate(613.98,429.73) rotate(-90)" font-size="9.9" fill="#222" textLength="12.82" lengthAdjust="spacingAndGlyphs">6.5</text>
<text transform="translate(632.02,422.53) rotate(-90)" font-size="9.9" fill="#222" textLength="5.68" lengthAdjust="spacingAndGlyphs">8</text>
<text transform="translate(650.05,429.69) rotate(-90)" font-size="9.9" fill="#222" textLength="12.78" lengthAdjust="spacingAndGlyphs">9.5</text>
<text transform="translate(668.09,427.62) rotate(-90)" font-size="9.9" fill="#222" textLength="10.8" lengthAdjust="spacingAndGlyphs">11</text>
<text transform="translate(686.12,434.75) rotate(-90)" font-size="9.9" fill="#222" textLength="17.84" lengthAdjust="spacingAndGlyphs">12.5</text>
<text transform="translate(22.7,246.71) rotate(-90)" font-size="16" font-weight="bold" fill="#000" textLength="59.75" lengthAdjust="spacingAndGlyphs">Fraction</text>
<text transform="translate(22.7,182.16) rotate(-90)" font-size="16" font-weight="bold" fill="#000" textLength="23.61" lengthAdjust="spacingAndGlyphs">(%)</text>
<text x="309.05" y="454" font-size="12.2" font-weight="bold" fill="#000" textLength="55.2" lengthAdjust="spacingAndGlyphs">PROVEAN</text>
<text x="368.98" y="454" font-size="12.2" font-weight="bold" fill="#000" textLength="32.75" lengthAdjust="spacingAndGlyphs">(v1.1)</text>
<text x="405" y="454" font-size="12.2" font-weight="bold" fill="#000" textLength="30.49" lengthAdjust="spacingAndGlyphs">score</text>
</svg></body></html>
